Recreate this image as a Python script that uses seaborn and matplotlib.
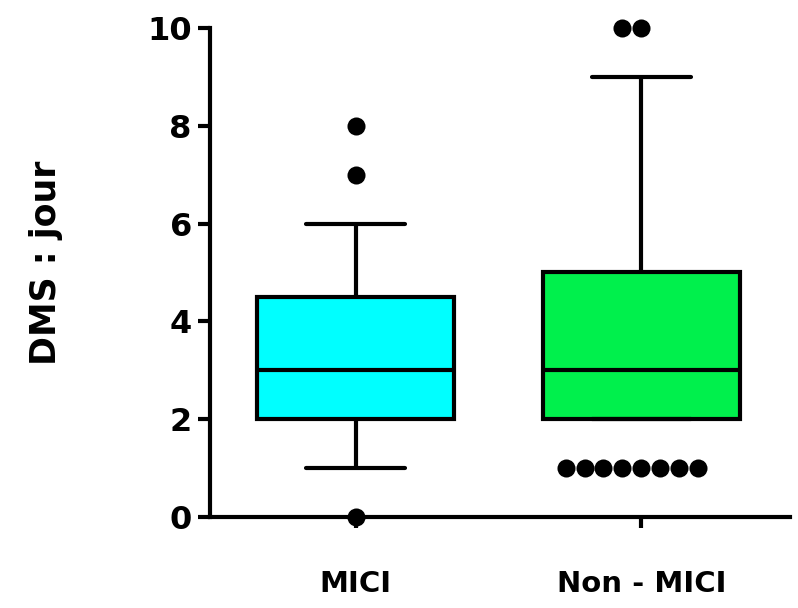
import matplotlib
matplotlib.use("Agg")
import matplotlib.pyplot as plt
from matplotlib import cbook
import numpy as np
import pandas as pd
import seaborn as sns

# Data: length of stay (days) and how many patients per value
groups = ["MICI", "Non - MICI"]
mici_days = [0, 1, 2, 3, 4, 5, 6, 7, 8]
mici_counts = [1, 3, 4, 8, 1, 2, 2, 1, 1]
non_mici_days = [1, 2, 3, 4, 5, 6, 7, 8, 9, 10]
non_mici_counts = [8, 18, 23, 7, 8, 3, 3, 2, 7, 2]
box_colors = ["#00FFFF", "#00F04C"]
y_ticks = [0, 2, 4, 6, 8, 10]
whis = (10, 90)

df = pd.concat([
    pd.DataFrame({"group": groups[0], "dms": np.repeat(mici_days, mici_counts)}),
    pd.DataFrame({"group": groups[1], "dms": np.repeat(non_mici_days, non_mici_counts)}),
], ignore_index=True)

# Outliers beyond the 10-90 percentile whiskers
fliers = []
for g in groups:
    vals = df.loc[df["group"] == g, "dms"].to_numpy(dtype=float)
    st = cbook.boxplot_stats(vals, whis=whis)[0]
    for v in st["fliers"]:
        fliers.append({"group": g, "dms": v})
fliers_df = pd.DataFrame(fliers)

sns.set_theme(style="ticks")
plt.rcParams["font.family"] = ["DejaVu Sans"]
plt.rcParams["font.weight"] = "bold"

fig = plt.figure(figsize=(7.98, 6.08), dpi=100)
ax = fig.add_axes([0.263, 0.1497, 0.727, 0.8043])

lw = 3.0
sns.boxplot(data=df, x="group", y="dms", hue="group", order=groups,
            palette=box_colors, saturation=1, legend=False, whis=whis,
            showfliers=False, width=0.69, linewidth=lw, linecolor="black", ax=ax,
            boxprops=dict(edgecolor="black", linewidth=lw),
            medianprops=dict(color="black", linewidth=lw),
            whiskerprops=dict(color="black", linewidth=lw),
            capprops=dict(color="black", linewidth=lw))

sns.swarmplot(data=fliers_df, x="group", y="dms", order=groups, color="black",
              size=13, ax=ax, zorder=5)
for coll in ax.collections:
    coll.set_clip_on(False)

ax.set_xlim(-0.51, 1.52)
ax.set_ylim(0, 10)
ax.set_yticks(y_ticks)
ax.set_xlabel("")
ax.set_ylabel("DMS : jour", fontsize=25, fontweight="bold", color="black")
ax.yaxis.set_label_coords(-0.254, 0.52)

for s in ["top", "right"]:
    ax.spines[s].set_visible(False)
for s in ["left", "bottom"]:
    ax.spines[s].set_linewidth(3)
    ax.spines[s].set_color("black")

ax.tick_params(axis="y", length=9, width=3, labelsize=23, pad=4, colors="black")
ax.tick_params(axis="x", length=8, width=3, labelsize=21, pad=30, colors="black")
for lab in ax.get_xticklabels() + ax.get_yticklabels():
    lab.set_fontweight("bold")

fig.savefig("out.png", dpi=100, facecolor="white")
